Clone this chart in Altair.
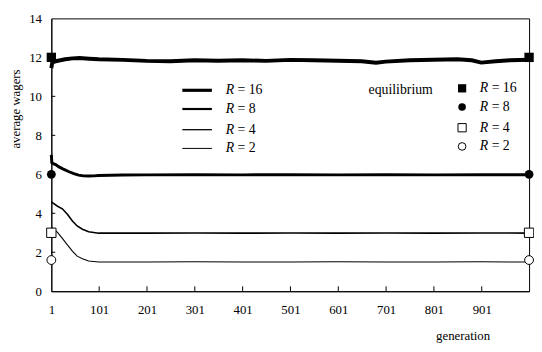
import altair as alt
import pandas as pd

# ---- data ----
gen16 = [1, 3, 10, 20, 30, 45, 60, 80, 100, 150, 200, 250, 300, 350, 400, 450, 500, 550, 600, 650, 680, 700, 750, 800, 850, 880, 900, 930, 960, 1000]
val16 = [11.45, 11.75, 11.8, 11.85, 11.9, 11.95, 11.97, 11.93, 11.9, 11.87, 11.82, 11.8, 11.85, 11.83, 11.85, 11.82, 11.87, 11.85, 11.83, 11.8, 11.72, 11.78, 11.85, 11.88, 11.9, 11.85, 11.73, 11.8, 11.85, 11.88]

gen8 = [1, 2, 5, 10, 17, 25, 38, 48, 58, 68, 79, 90, 100, 150, 200, 300, 400, 500, 600, 700, 800, 900, 1000]
val8 = [7.0, 6.6, 6.55, 6.5, 6.38, 6.28, 6.13, 6.03, 5.96, 5.92, 5.91, 5.92, 5.94, 5.96, 5.97, 5.98, 5.97, 5.98, 5.97, 5.98, 5.97, 5.98, 5.98]

gen4 = [1, 4, 14, 24, 35, 45, 55, 66, 79, 100, 150, 200, 300, 400, 500, 600, 700, 800, 900, 1000]
val4 = [4.6, 4.53, 4.36, 4.23, 3.94, 3.6, 3.35, 3.18, 3.05, 2.98, 2.98, 2.98, 2.99, 2.98, 2.99, 2.98, 2.99, 2.98, 2.99, 2.98]

gen2 = [1, 3, 14, 24, 35, 45, 55, 66, 79, 100, 150, 200, 300, 400, 500, 600, 700, 800, 900, 1000]
val2 = [3.27, 3.25, 3.02, 2.71, 2.37, 2.06, 1.8, 1.67, 1.55, 1.5, 1.5, 1.5, 1.51, 1.5, 1.5, 1.51, 1.5, 1.5, 1.51, 1.5]

series_names = ["R = 16", "R = 8", "R = 4", "R = 2"]
equilibrium = [12, 6, 3, 1.6]
eq_gens = [1, 1000]

x_tick_values = [1, 101, 201, 301, 401, 501, 601, 701, 801, 901]
y_tick_values = [0, 2, 4, 6, 8, 10, 12, 14]

W, H = 485, 277
FONT = "Liberation Serif"

line_widths = [4, 3, 1.6, 1.1]
legend_line_widths = [3.2, 2.2, 1.3, 1.0]
shapes = ["square", "circle", "square", "circle"]
filled = [True, True, False, False]

x_scale = alt.Scale(domain=[1, 1000], nice=False, zero=False)
y_scale = alt.Scale(domain=[0, 14], nice=False, zero=False)

x_axis = alt.Axis(values=x_tick_values, title=None, grid=False, ticks=False,
                  labelPadding=13, labelFont=FONT, labelFontSize=13,
                  labelOverlap=False, labelColor="black", domainColor="black",
                  labelFlush=False)
y_axis = alt.Axis(values=y_tick_values, title=None, grid=False, ticks=False,
                  labelPadding=10, labelFont=FONT, labelFontSize=13,
                  labelOverlap=False, labelColor="black", domainColor="black")

layers = []

gens_all = [gen16, gen8, gen4, gen2]
vals_all = [val16, val8, val4, val2]

for i, name in enumerate(series_names):
    df = pd.DataFrame({"generation": gens_all[i], "wager": vals_all[i]})
    layers.append(alt.Chart(df).mark_line(color="black", strokeWidth=line_widths[i]).encode(
        x=alt.X("generation:Q", scale=x_scale, axis=x_axis),
        y=alt.Y("wager:Q", scale=y_scale, axis=y_axis)))

# inward ticks
xt = pd.DataFrame({"generation": x_tick_values[1:]})
layers.append(alt.Chart(xt).mark_rule(color="black", strokeWidth=1).encode(
    x=alt.X("generation:Q", scale=x_scale, axis=x_axis), y=alt.value(H), y2=alt.value(H - 5)))
yt = pd.DataFrame({"wager": y_tick_values[1:-1]})
layers.append(alt.Chart(yt).mark_rule(color="black", strokeWidth=1).encode(
    y=alt.Y("wager:Q", scale=y_scale, axis=y_axis), x=alt.value(0), x2=alt.value(4)))

# equilibrium markers
for i, name in enumerate(series_names):
    df = pd.DataFrame({"generation": eq_gens, "wager": [equilibrium[i]] * len(eq_gens)})
    size = 90 if shapes[i] == "square" else 80
    layers.append(alt.Chart(df).mark_point(
        shape=shapes[i], filled=filled[i], color="black", fill="black" if filled[i] else "white",
        fillOpacity=1, opacity=1, size=size, strokeWidth=1, clip=False).encode(
        x=alt.X("generation:Q", scale=x_scale, axis=x_axis),
        y=alt.Y("wager:Q", scale=y_scale, axis=y_axis)))

one = pd.DataFrame({"a": [0]})

# legend (lines)
leg_y = [73, 92, 113, 132]
for i, name in enumerate(series_names):
    layers.append(alt.Chart(one).mark_rule(color="black", strokeWidth=legend_line_widths[i]).encode(
        x=alt.value(133), x2=alt.value(163), y=alt.value(leg_y[i])))
    layers.append(alt.Chart(one).mark_text(
        text="R", font=FONT, fontSize=14, fontStyle="italic", align="left", baseline="middle").encode(
        x=alt.value(177), y=alt.value(leg_y[i])))
    layers.append(alt.Chart(one).mark_text(
        text=name[2:], font=FONT, fontSize=14, align="left", baseline="middle").encode(
        x=alt.value(189), y=alt.value(leg_y[i])))

# legend (equilibrium)
layers.append(alt.Chart(one).mark_text(
    text="equilibrium", font=FONT, fontSize=14, align="left", baseline="middle").encode(
    x=alt.value(322), y=alt.value(73)))
eq_leg_y = [71, 90, 111, 130]
for i, name in enumerate(series_names):
    layers.append(alt.Chart(one).mark_point(
        shape=shapes[i], filled=filled[i], color="black", fill="black" if filled[i] else "white",
        fillOpacity=1, opacity=1, size=70 if shapes[i] == "square" else 60, strokeWidth=1).encode(
        x=alt.value(417), y=alt.value(eq_leg_y[i])))
    layers.append(alt.Chart(one).mark_text(
        text="R", font=FONT, fontSize=14, fontStyle="italic", align="left", baseline="middle").encode(
        x=alt.value(435), y=alt.value(eq_leg_y[i])))
    layers.append(alt.Chart(one).mark_text(
        text=name[2:], font=FONT, fontSize=14, align="left", baseline="middle").encode(
        x=alt.value(447), y=alt.value(eq_leg_y[i])))

# axis titles
layers.append(alt.Chart(one).mark_text(
    text="average wagers", font=FONT, fontSize=13, angle=270, align="center", baseline="middle").encode(
    x=alt.value(-36), y=alt.value(92)))
layers.append(alt.Chart(one).mark_text(
    text="generation", font=FONT, fontSize=13, align="center", baseline="middle").encode(
    x=alt.value(418), y=alt.value(322)))

chart = alt.layer(*layers).properties(
    width=W, height=H,
    padding={"left": 44, "top": 8, "right": 5, "bottom": 50},
    autosize=alt.AutoSizeParams(type="none"),
    background="white",
).configure_view(stroke="black", strokeWidth=1).configure_axis(domainWidth=1)

chart.save("out.html", embed_options={"renderer": "svg", "actions": False})
